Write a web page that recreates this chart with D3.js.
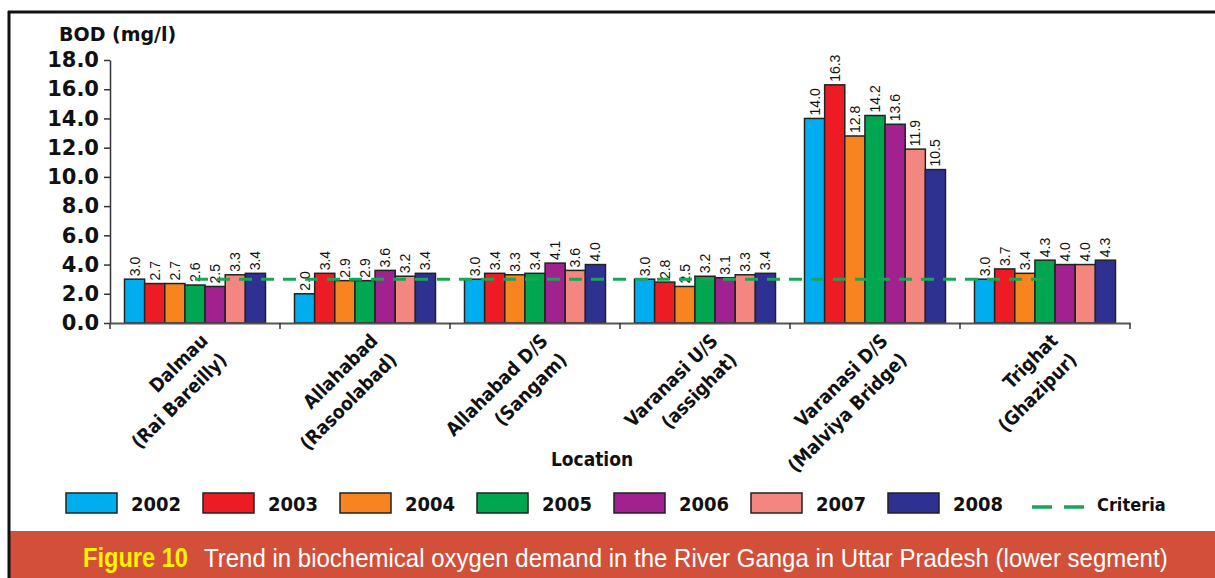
<!DOCTYPE html>
<html>
<head>
<meta charset="utf-8">
<script src="https://cdn.jsdelivr.net/npm/d3@7"></script>
<style>
  body { margin: 0; background: #fff; }
  svg { display: block; }
</style>
</head>
<body>
<svg id="chart"></svg>
<script>
// BOD trend, River Ganga in Uttar Pradesh (lower segment)

const locations = [
  ["Dalmau", "(Rai Bareilly)"],
  ["Allahabad", "(Rasoolabad)"],
  ["Allahabad D/S", "(Sangam)"],
  ["Varanasi U/S", "(assighat)"],
  ["Varanasi D/S", "(Malviya Bridge)"],
  ["Trighat", "(Ghazipur)"]
];
const years = ["2002", "2003", "2004", "2005", "2006", "2007", "2008"];

const bod2002 = [3.0, 2.0, 3.0, 3.0, 14.0, 3.0];
const bod2003 = [2.7, 3.4, 3.4, 2.8, 16.3, 3.7];
const bod2004 = [2.7, 2.9, 3.3, 2.5, 12.8, 3.4];
const bod2005 = [2.6, 2.9, 3.4, 3.2, 14.2, 4.3];
const bod2006 = [2.5, 3.6, 4.1, 3.1, 13.6, 4.0];
const bod2007 = [3.3, 3.2, 3.6, 3.3, 11.9, 4.0];
const bod2008 = [3.4, 3.4, 4.0, 3.4, 10.5, 4.3];
const criteria = [3, 3, 3, 3, 3, 3];

const yTicks = [0, 2, 4, 6, 8, 10, 12, 14, 16, 18];

const W = 1215, H = 578;
const colors = ["#00AEEF", "#ED1C24", "#F7841F", "#00A650", "#A1228E", "#F3867F", "#2E3192"];
const critColor = "#17A556";
const condensed = "'DejaVu Sans Condensed', 'Liberation Sans Narrow', sans-serif";

const series = [bod2002, bod2003, bod2004, bod2005, bod2006, bod2007, bod2008];
const locKeys = locations.map(d => d.join(" "));

const svg = d3.select("#chart")
    .attr("width", W)
    .attr("height", H);

// frame + footer band
svg.append("rect")
    .attr("x", 10).attr("y", 531)
    .attr("width", W - 10).attr("height", H - 531)
    .attr("fill", "#D25039");
svg.append("line")
    .attr("x1", 8).attr("x2", W)
    .attr("y1", 12).attr("y2", 12)
    .attr("stroke", "#111").attr("stroke-width", 3);
svg.append("line")
    .attr("x1", 9).attr("x2", 9)
    .attr("y1", 11).attr("y2", H)
    .attr("stroke", "#111").attr("stroke-width", 3);

// scales
let x0 = d3.scaleBand()
    .domain(locKeys)
    .range([110, 1130]);

let x1 = d3.scaleBand()
    .domain(years)
    .range([0, x0.bandwidth()])
    .paddingOuter(0.72);

let y = d3.scaleLinear()
    .domain([0, 18])
    .range([323, 60]);

// y axis
let yAxis = d3.axisLeft(y)
    .tickValues(yTicks)
    .tickFormat(d3.format(".1f"))
    .tickSize(6)
    .tickSizeOuter(0);

let gy = svg.append("g")
    .attr("transform", "translate(110,0)")
    .call(yAxis);
gy.select(".domain").attr("stroke", "#333").attr("stroke-width", 1.5);
gy.selectAll(".tick line").attr("stroke", "#333").attr("stroke-width", 1.5);
gy.selectAll(".tick text")
    .attr("x", -11)
    .attr("font-family", "'DejaVu Sans', sans-serif")
    .attr("font-weight", "bold")
    .attr("font-size", "21px")
    .attr("fill", "#111");

svg.append("text")
    .attr("x", 59)
    .attr("y", 41)
    .text("BOD (mg/l)")
    .attr("font-family", "'DejaVu Sans', sans-serif")
    .attr("font-weight", "bold")
    .attr("font-size", "19px")
    .attr("fill", "#111");

// bars
let groups = svg.append("g").selectAll("g")
    .data(locKeys)
    .enter()
    .append("g")
    .attr("transform", d => `translate(${x0(d)},0)`);

groups.selectAll("rect")
    .data((d, i) => years.map((yr, j) => ({ yr: yr, v: series[j][i], c: colors[j] })))
    .enter()
    .append("rect")
    .attr("x", d => x1(d.yr))
    .attr("y", d => y(d.v))
    .attr("width", x1.bandwidth())
    .attr("height", d => y(0) - y(d.v))
    .attr("fill", d => d.c)
    .attr("stroke", "#222")
    .attr("stroke-width", 1.5);

// value labels (rotated)
groups.selectAll("text")
    .data((d, i) => years.map((yr, j) => ({ yr: yr, v: series[j][i] })))
    .enter()
    .append("text")
    .attr("transform", d => `translate(${x1(d.yr) + x1.bandwidth() / 2},${y(d.v) - 3}) rotate(-90)`)
    .attr("dy", "0.36em")
    .attr("text-anchor", "start")
    .attr("font-family", "'Liberation Sans', Arial, sans-serif")
    .attr("font-size", "14px")
    .attr("fill", "#111")
    .text(d => d3.format(".1f")(d.v));

// x axis
let xAxis = d3.axisBottom(x0)
    .tickValues([])
    .tickSizeOuter(0);
let gx = svg.append("g")
    .attr("transform", `translate(0,${y(0)})`)
    .call(xAxis);
gx.select(".domain").attr("stroke", "#555").attr("stroke-width", 2);
gx.selectAll("line.sep")
    .data(d3.range(locKeys.length + 1))
    .enter()
    .append("line")
    .attr("class", "sep")
    .attr("x1", i => 110 + i * x0.step())
    .attr("x2", i => 110 + i * x0.step())
    .attr("y1", 0).attr("y2", 6)
    .attr("stroke", "#333").attr("stroke-width", 1.5);

// category labels, two lines, right aligned, rotated -45
let catLabels = svg.append("g").selectAll("text")
    .data(locations)
    .enter()
    .append("text")
    .attr("transform", (d, i) => `translate(${x0(locKeys[i]) + x0.bandwidth() / 2 + 14},${342}) rotate(-45)`)
    .attr("text-anchor", "end")
    .attr("font-family", condensed)
    .attr("font-weight", "bold")
    .attr("font-size", "19px")
    .attr("fill", "#111");
catLabels.selectAll("tspan")
    .data(d => d)
    .enter()
    .append("tspan")
    .attr("x", 0)
    .attr("dy", (d, k) => k === 0 ? 0 : 27)
    .text(d => d);

svg.append("text")
    .attr("x", 592)
    .attr("y", 466)
    .attr("text-anchor", "middle")
    .attr("font-family", condensed)
    .attr("font-weight", "bold")
    .attr("font-size", "19px")
    .attr("fill", "#111")
    .text("Location");

// criteria line
let critLine = d3.line()
    .x((d, i) => x0(locKeys[i]) + x0.bandwidth() / 2)
    .y(d => y(d));
svg.append("path")
    .attr("d", critLine(criteria))
    .attr("fill", "none")
    .attr("stroke", critColor)
    .attr("stroke-width", 3)
    .attr("stroke-dasharray", "13,9");

// legend
let legend = svg.append("g").selectAll("g")
    .data(years)
    .enter()
    .append("g")
    .attr("transform", (d, i) => `translate(${66 + i * 137},493)`);
legend.append("rect")
    .attr("width", 51)
    .attr("height", 20)
    .attr("fill", (d, i) => colors[i])
    .attr("stroke", "#222")
    .attr("stroke-width", 1.5);
legend.append("text")
    .attr("x", 65)
    .attr("y", 18)
    .attr("font-family", condensed)
    .attr("font-weight", "bold")
    .attr("font-size", "20px")
    .attr("fill", "#111")
    .text(d => d);

let critLegend = svg.append("g")
    .attr("transform", `translate(${66 + years.length * 137 + 7},507)`);
critLegend.append("line")
    .attr("x1", 0).attr("x2", 54)
    .attr("y1", 0).attr("y2", 0)
    .attr("stroke", critColor)
    .attr("stroke-width", 3.5)
    .attr("stroke-dasharray", "20,12");
critLegend.append("text")
    .attr("x", 65)
    .attr("y", 4)
    .attr("font-family", condensed)
    .attr("font-weight", "bold")
    .attr("font-size", "18px")
    .attr("fill", "#111")
    .text("Criteria");

// footer caption, squeezed horizontally to mimic a narrow face
function fitText(sel, width) {
    let w = sel.node().getComputedTextLength();
    let x = +sel.attr("x");
    sel.attr("transform", `translate(${x},0) scale(${width / w},1) translate(${-x},0)`);
}
let fig = svg.append("text")
    .attr("x", 83)
    .attr("y", 567)
    .attr("font-family", "'Liberation Sans', Arial, sans-serif")
    .attr("font-weight", "bold")
    .attr("font-size", "27px")
    .attr("fill", "#FFF200")
    .text("Figure 10");
fitText(fig, 105);
let cap = svg.append("text")
    .attr("x", 204)
    .attr("y", 567)
    .attr("font-family", "'Liberation Sans', Arial, sans-serif")
    .attr("font-size", "26px")
    .attr("fill", "#fff")
    .text("Trend in biochemical oxygen demand in the River Ganga in Uttar Pradesh (lower segment)");
fitText(cap, 964);
</script>
</body>
</html>
